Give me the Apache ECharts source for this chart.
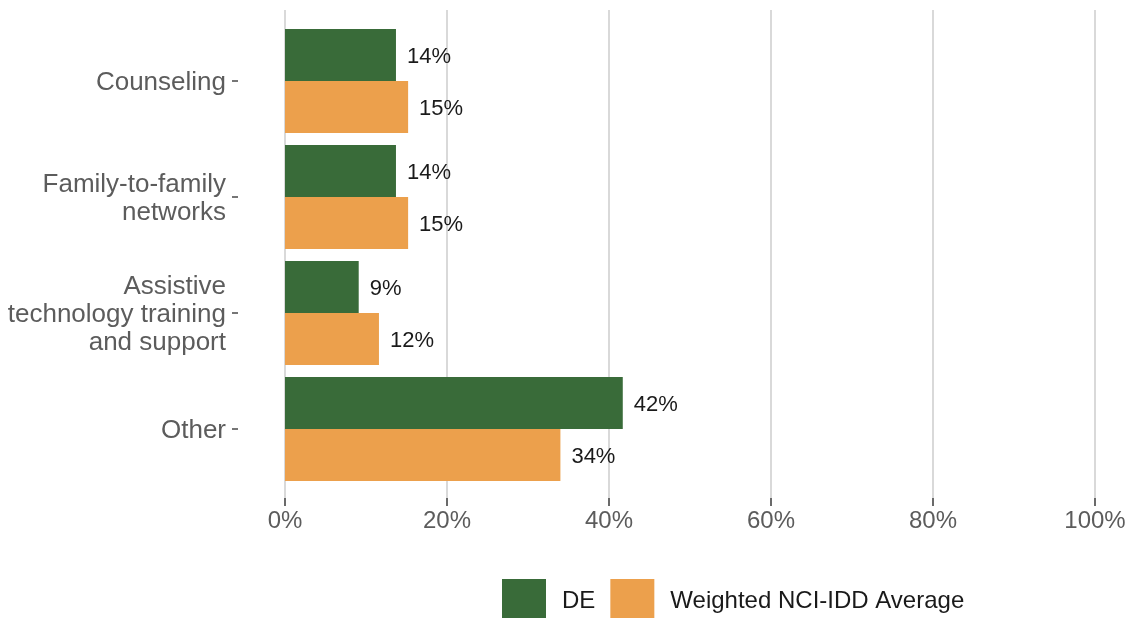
<!DOCTYPE html>
<html>
<head>
<meta charset="utf-8">
<script src="https://cdn.jsdelivr.net/npm/echarts@6/dist/echarts.min.js"></script>
<style>html,body{margin:0;padding:0;background:#fff;}#c{width:1131px;height:618px;}</style>
</head>
<body>
<div id="c"></div>
<script>
const categories = ['Counseling', 'Family-to-family\nnetworks', 'Assistive\ntechnology training\nand support', 'Other'];
const seriesNames = ['DE', 'Weighted NCI-IDD Average'];
const deValues = [13.7, 13.7, 9.1, 41.7];
const nciValues = [15.2, 15.2, 11.6, 34.0];
const xTicks = [0, 20, 40, 60, 80, 100];

const FONT = '"Liberation Sans", Arial, sans-serif';
const chart = echarts.init(document.getElementById('c'), null, {renderer: 'canvas'});

// layout: value 0 sits at x=285, 100 at x=1095; category axis line sits at x=238
const zeroX = 285, fullX = 1095, catAxisX = 238;
const pxPerUnit = (fullX - zeroX) / (xTicks[xTicks.length - 1] - xTicks[0]);
const barMin = -(zeroX - catAxisX) / pxPerUnit;

const labelCfg = {
  show: true, position: 'right', distance: 11, offset: [0, 2],
  fontFamily: FONT, fontSize: 22, color: '#1a1a1a',
  formatter: p => Math.round(p.value) + '%'
};
chart.setOption({
  animation: false,
  backgroundColor: '#fff',
  grid: [
    {left: zeroX, right: 1131 - fullX, top: 10, bottom: 120},
    {left: catAxisX, right: 1131 - fullX, top: 23, bottom: 131}
  ],
  xAxis: [
    {
      gridIndex: 0, type: 'value', min: xTicks[0], max: xTicks[xTicks.length - 1], interval: 20,
      axisLine: {show: false},
      axisTick: {show: true, length: 8, lineStyle: {color: '#3a3a3a', width: 1.5}},
      axisLabel: {fontFamily: FONT, fontSize: 24, color: '#5c5c5c', margin: 11, formatter: v => v + '%'},
      splitLine: {show: true, lineStyle: {color: '#cccccc', width: 1.5}}
    },
    {
      gridIndex: 1, type: 'value', min: barMin, max: xTicks[xTicks.length - 1],
      show: false, splitLine: {show: false}
    }
  ],
  yAxis: [
    {gridIndex: 0, type: 'category', data: categories, show: false},
    {
      gridIndex: 1, type: 'category', data: categories, inverse: true,
      axisLine: {show: false, onZero: false},
      axisTick: {show: true, alignWithLabel: true, length: 6, lineStyle: {color: '#4a4a4a', width: 1.5}},
      axisLabel: {
        margin: 12, align: 'right',
        formatter: v => v.split('\n').map(s => '{t|' + s + '}').join('\n'),
        rich: {t: {fontFamily: FONT, fontSize: 26, color: '#5c5c5c', lineHeight: 28, padding: [4, 0, 0, 0], align: 'right'}}
      },
      splitLine: {show: false}
    }
  ],
  legend: {
    left: 502, top: 579, padding: 0, itemWidth: 44, itemHeight: 44, itemGap: 15,
    icon: 'rect',
    textStyle: {fontFamily: FONT, fontSize: 24, color: '#1a1a1a', padding: [0, 0, 0, 11]},
    data: seriesNames
  },
  series: [
    {name: seriesNames[0], type: 'bar', xAxisIndex: 1, yAxisIndex: 1, data: deValues, barWidth: 52, barGap: '0%',
     itemStyle: {color: '#396b39'}, label: labelCfg},
    {name: seriesNames[1], type: 'bar', xAxisIndex: 1, yAxisIndex: 1, data: nciValues, barWidth: 52, barGap: '0%',
     itemStyle: {color: '#eca04c'}, label: labelCfg}
  ]
});
</script>
</body>
</html>
